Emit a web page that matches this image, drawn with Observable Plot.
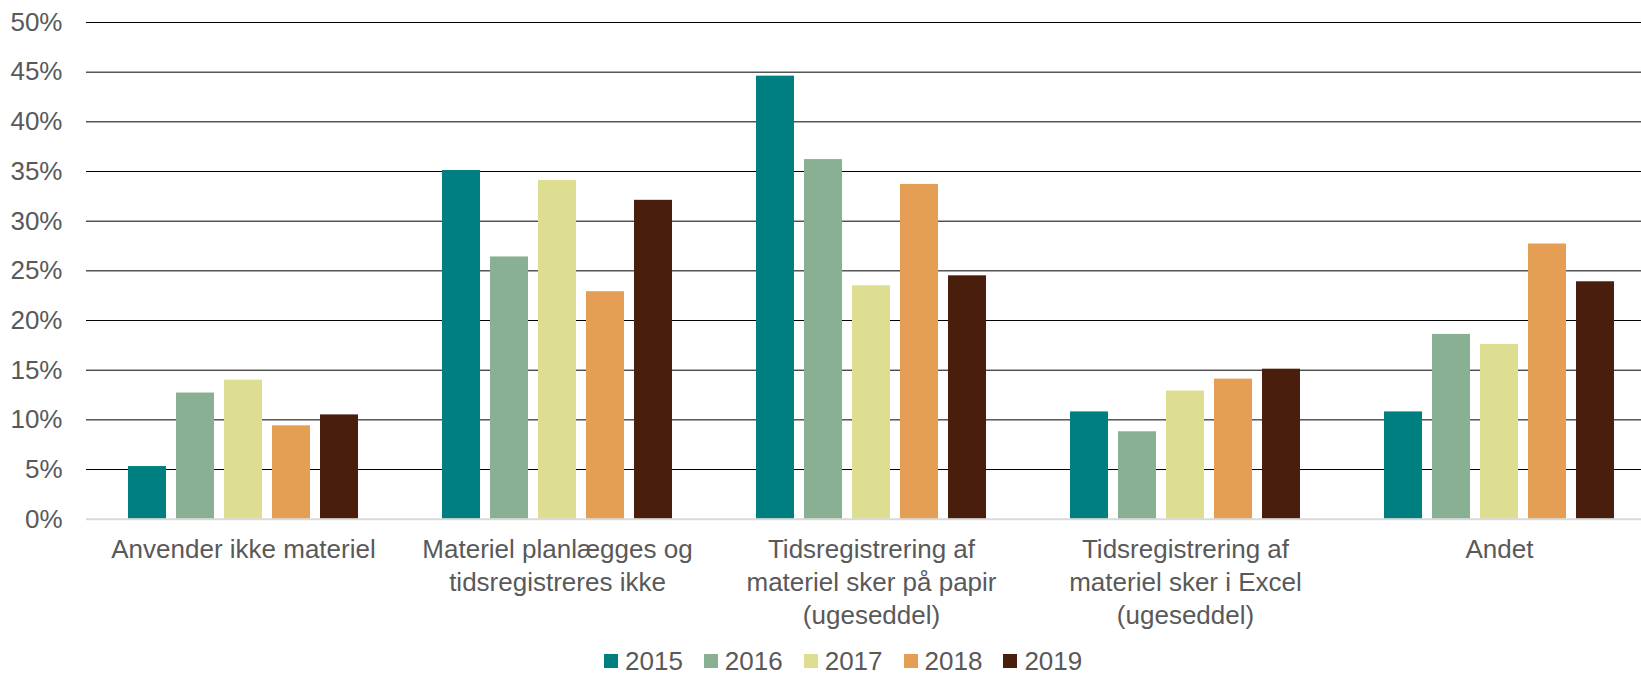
<!DOCTYPE html>
<html>
<head>
<meta charset="utf-8">
<script src="https://cdn.jsdelivr.net/npm/d3@7"></script>
<script src="https://cdn.jsdelivr.net/npm/@observablehq/plot@0.6"></script>
<style>
  html, body { margin: 0; padding: 0; background: #fff; }
  body { width: 1641px; height: 676px; position: relative; overflow: hidden; font-family: "Liberation Sans", Arial, sans-serif; }
  #chart { position: absolute; left: 0; top: 0; }
  #legend { position: absolute; left: 604px; top: 646px; display: flex; gap: 21px; font-size: 26px; line-height: 30px; color: #595959; }
  .item { display: flex; align-items: center; gap: 7px; }
  .sw { width: 14px; height: 14px; display: inline-block; }
</style>
</head>
<body>
<div id="chart"></div>
<div id="legend"></div>
<script>
const categories = [
  "Anvender ikke materiel",
  "Materiel planlægges og\ntidsregistreres ikke",
  "Tidsregistrering af\nmateriel sker på papir\n(ugeseddel)",
  "Tidsregistrering af\nmateriel sker i Excel\n(ugeseddel)",
  "Andet"
];
const years = ["2015", "2016", "2017", "2018", "2019"];
const v2015 = [5.3, 35.1, 44.6, 10.8, 10.8];
const v2016 = [12.7, 26.4, 36.2, 8.8, 18.6];
const v2017 = [14.0, 34.1, 23.5, 12.9, 17.6];
const v2018 = [9.4, 22.9, 33.7, 14.1, 27.7];
const v2019 = [10.5, 32.1, 24.5, 15.1, 23.9];
const colors = ["#007f80", "#8ab093", "#dede92", "#e49f55", "#4a1e0c"];
const yTicks = [0, 5, 10, 15, 20, 25, 30, 35, 40, 45, 50];

const series = [v2015, v2016, v2017, v2018, v2019];
const data = [];
categories.forEach((c, i) => years.forEach((y, j) => data.push({cat: c, year: y, value: series[j][i]})));

const textColor = "#595959";
const plot = Plot.plot({
  width: 1641,
  height: 640,
  marginLeft: 86,
  marginRight: -15,
  marginTop: 22,
  marginBottom: 121.3,
  style: {fontFamily: "'Liberation Sans', Arial, sans-serif", fontSize: "26px", color: textColor, background: "#fff"},
  fx: {domain: categories, padding: 0, label: null},
  x: {domain: years, paddingInner: 0.216, paddingOuter: 0.872, axis: null},
  y: {domain: [0, 50], label: null},
  color: {domain: years, range: colors},
  marks: [
    Plot.gridY(yTicks.filter(d => d > 0), {stroke: "#000", strokeOpacity: 1, strokeWidth: 1}),
    Plot.axisY(yTicks, {tickSize: 0, tickPadding: 24, tickFormat: d => d + "%", fontSize: 26, fill: textColor, label: null}),
    Plot.axisFx({anchor: "bottom", tickSize: 0, tickPadding: 15, fontSize: 26, lineHeight: 1.27, fill: textColor, label: null}),
    Plot.barY(data, {fx: "cat", x: "year", y: "value", fill: "year"}),
    Plot.ruleY([0], {stroke: "#d9d9d9", strokeWidth: 2})
  ]
});
document.getElementById("chart").appendChild(plot);

const legend = document.getElementById("legend");
years.forEach((y, i) => {
  const item = document.createElement("div");
  item.className = "item";
  const sw = document.createElement("span");
  sw.className = "sw";
  sw.style.background = colors[i];
  const t = document.createElement("span");
  t.textContent = y;
  item.appendChild(sw);
  item.appendChild(t);
  legend.appendChild(item);
});
</script>
</body>
</html>
